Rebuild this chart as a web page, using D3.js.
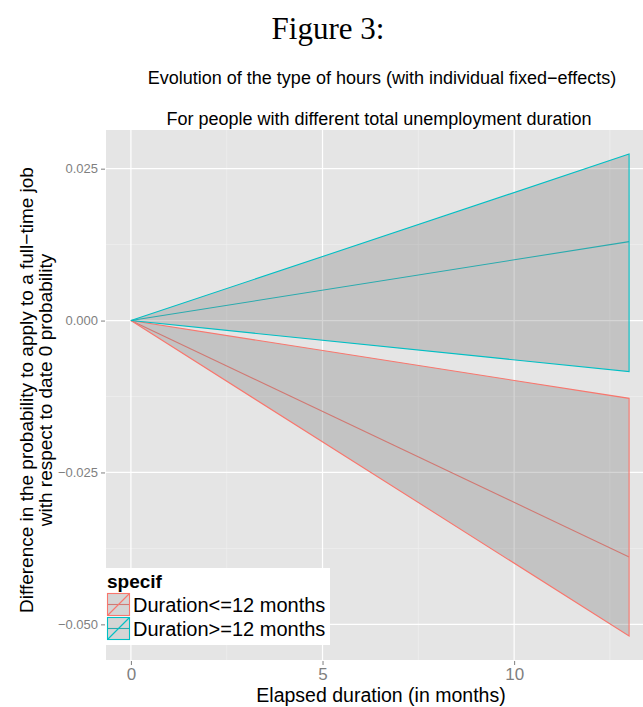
<!DOCTYPE html>
<html>
<head>
<meta charset="utf-8">
<script src="https://cdn.jsdelivr.net/npm/d3@7"></script>
<style>
  html, body { margin: 0; padding: 0; background: #ffffff; }
  svg { display: block; }
  text { font-family: "Liberation Sans", Arial, sans-serif; }
</style>
</head>
<body>
<div id="chart"></div>
<script>
// Elapsed duration (months) at which the effect is estimated
const months = [0, 13];

// Duration <= 12 months: estimate with lower / upper confidence bounds
const shortEstimate = [0, -0.0389];
const shortLower    = [0, -0.0519];
const shortUpper    = [0, -0.0128];

// Duration >= 12 months: estimate with lower / upper confidence bounds
const longEstimate = [0, 0.0130];
const longLower    = [0, -0.0084];
const longUpper    = [0, 0.0274];

const seriesNames  = ["Duration<=12 months", "Duration>=12 months"];
const seriesColors = ["#F8766D", "#00BFC4"];

const xMajorTicks = [0, 5, 10];
const xMinorTicks = [2.5, 7.5, 12.5];
const yMajorTicks = [-0.05, -0.025, 0, 0.025];
const yMinorTicks = [-0.0375, -0.0125, 0.0125];
const yTickLabels = ["\u22120.050", "\u22120.025", "0.000", "0.025"];

const W = 643, H = 707;
const panel = { left: 106, right: 654, top: 130, bottom: 660 };

const series = [
  { name: seriesNames[0], color: seriesColors[0], est: shortEstimate, lo: shortLower, hi: shortUpper },
  { name: seriesNames[1], color: seriesColors[1], est: longEstimate,  lo: longLower,  hi: longUpper }
].map(s => ({
  ...s,
  rows: months.map((m, i) => ({ x: m, est: s.est[i], lo: s.lo[i], hi: s.hi[i] }))
}));

// Continuous scales with a 5% expansion around the data range
const xMin = d3.min(months), xMax = d3.max(months);
const xPad = (xMax - xMin) * 0.05;
const allY = [].concat(shortLower, shortUpper, longLower, longUpper, shortEstimate, longEstimate);
const yMin = d3.min(allY), yMax = d3.max(allY);
const yPad = (yMax - yMin) * 0.05;

const x = d3.scaleLinear().domain([xMin - xPad, xMax + xPad]).range([panel.left, panel.right]);
const y = d3.scaleLinear().domain([yMin - yPad, yMax + yPad]).range([panel.bottom, panel.top]);

const svg = d3.select("#chart").append("svg")
  .attr("width", W).attr("height", H);

// Figure caption
svg.append("text")
  .attr("x", 328).attr("y", 39)
  .attr("text-anchor", "middle")
  .style("font-family", "'Liberation Serif', 'DejaVu Serif', serif")
  .style("font-size", "31px")
  .attr("fill", "#000")
  .text("Figure 3:");

// Plot title (two lines, centred over the panel)
const titleX = (panel.left + panel.right) / 2 - 1;
svg.append("text")
  .attr("x", titleX + 3).attr("y", 84)
  .attr("text-anchor", "middle")
  .style("font-size", "18px")
  .text("Evolution of the type of hours (with individual fixed\u2212effects)");
svg.append("text")
  .attr("x", titleX).attr("y", 125)
  .attr("text-anchor", "middle")
  .style("font-size", "18px")
  .text("For people with different total unemployment duration");

// Panel background and grid
svg.append("clipPath").attr("id", "panel-clip")
  .append("rect")
  .attr("x", panel.left).attr("y", panel.top)
  .attr("width", panel.right - panel.left).attr("height", panel.bottom - panel.top);

svg.append("rect")
  .attr("x", panel.left).attr("y", panel.top)
  .attr("width", panel.right - panel.left).attr("height", panel.bottom - panel.top)
  .attr("fill", "#E5E5E5");

const grid = svg.append("g");
grid.selectAll("line.ymin").data(yMinorTicks).join("line")
  .attr("x1", panel.left).attr("x2", panel.right)
  .attr("y1", d => y(d)).attr("y2", d => y(d))
  .attr("stroke", "#F2F2F2").attr("stroke-width", 0.6);
grid.selectAll("line.xmin").data(xMinorTicks).join("line")
  .attr("y1", panel.top).attr("y2", panel.bottom)
  .attr("x1", d => x(d)).attr("x2", d => x(d))
  .attr("stroke", "#F2F2F2").attr("stroke-width", 0.6);
grid.selectAll("line.ymaj").data(yMajorTicks).join("line")
  .attr("x1", panel.left).attr("x2", panel.right)
  .attr("y1", d => y(d)).attr("y2", d => y(d))
  .attr("stroke", "#FFFFFF").attr("stroke-width", 1.2);
grid.selectAll("line.xmaj").data(xMajorTicks).join("line")
  .attr("y1", panel.top).attr("y2", panel.bottom)
  .attr("x1", d => x(d)).attr("x2", d => x(d))
  .attr("stroke", "#FFFFFF").attr("stroke-width", 1.2);

// Data layers
const plot = svg.append("g").attr("clip-path", "url(#panel-clip)");

const estLine = d3.line().x(d => x(d.x)).y(d => y(d.est));
const band = d3.area().x(d => x(d.x)).y0(d => y(d.lo)).y1(d => y(d.hi));

// point estimates
plot.selectAll("path.est").data(series).join("path")
  .attr("d", s => estLine(s.rows))
  .attr("fill", "none")
  .attr("stroke", s => s.color)
  .attr("stroke-width", 1.1);

// confidence bands: translucent grey fill, outlined in the series colour
plot.selectAll("path.band").data(series).join("path")
  .attr("d", s => band(s.rows))
  .attr("fill", "#7F7F7F").attr("fill-opacity", 0.33)
  .attr("stroke", s => s.color)
  .attr("stroke-width", 1.1)
  .attr("stroke-linejoin", "miter");

// Axes
const yAxis = d3.axisLeft(y)
  .tickValues(yMajorTicks)
  .tickFormat((d, i) => yTickLabels[i])
  .tickSize(4).tickPadding(3);
const gy = svg.append("g").attr("transform", `translate(${panel.left - 1},0)`).call(yAxis);
gy.select(".domain").remove();
gy.selectAll(".tick line").attr("stroke", "#7F7F7F").attr("stroke-width", 1);
gy.selectAll(".tick text")
  .attr("fill", "#7F7F7F")
  .style("font-size", "13px")
  .style("font-family", "'Liberation Sans', Arial, sans-serif");

const xAxis = d3.axisBottom(x)
  .tickValues(xMajorTicks)
  .tickFormat(d3.format("d"))
  .tickSize(4).tickPadding(3);
const gx = svg.append("g").attr("transform", `translate(0,${panel.bottom + 1})`).call(xAxis);
gx.select(".domain").remove();
gx.selectAll(".tick line").attr("stroke", "#7F7F7F").attr("stroke-width", 1);
gx.selectAll(".tick text")
  .attr("fill", "#7F7F7F")
  .style("font-size", "17px")
  .style("font-family", "'Liberation Sans', Arial, sans-serif");

// Axis titles
svg.append("text")
  .attr("x", 381).attr("y", 702)
  .attr("text-anchor", "middle")
  .style("font-size", "19.5px")
  .text("Elapsed duration (in months)");

const yTitle = svg.append("text")
  .attr("transform", `translate(0,${(panel.top + panel.bottom) / 2 - 5}) rotate(-90)`)
  .attr("text-anchor", "middle")
  .style("font-size", "19px");
yTitle.append("tspan").attr("x", 0).attr("y", 33)
  .text("Difference in the probability to apply to a full\u2212time job");
yTitle.append("tspan").attr("x", 0).attr("y", 52)
  .text("with respect to date 0 probability");

// Legend
const legend = svg.append("g").attr("transform", `translate(${panel.left},568)`);
legend.append("rect")
  .attr("x", 0).attr("y", 0).attr("width", 224).attr("height", 77)
  .attr("fill", "#FFFFFF");
legend.append("text")
  .attr("x", 1).attr("y", 20)
  .style("font-size", "19px").style("font-weight", "bold")
  .text("specif");

const keySize = 23;
const keys = legend.selectAll("g.key").data(series).join("g")
  .attr("transform", (s, i) => `translate(1,${25 + i * 24})`);
keys.append("line")
  .attr("x1", 0).attr("x2", keySize)
  .attr("y1", keySize / 2).attr("y2", keySize / 2)
  .attr("stroke", s => s.color).attr("stroke-width", 1.1);
keys.append("rect")
  .attr("x", 0.5).attr("y", 0.5).attr("width", keySize - 1).attr("height", keySize - 1)
  .attr("fill", "#7F7F7F").attr("fill-opacity", 0.33)
  .attr("stroke", s => s.color).attr("stroke-width", 1.1);
keys.append("line")
  .attr("x1", 0.5).attr("y1", keySize - 0.5)
  .attr("x2", keySize - 0.5).attr("y2", 0.5)
  .attr("stroke", s => s.color).attr("stroke-width", 1.1);
keys.append("text")
  .attr("x", keySize + 3).attr("y", keySize / 2 + 7)
  .style("font-size", "20px")
  .text(s => s.name);
</script>
</body>
</html>
